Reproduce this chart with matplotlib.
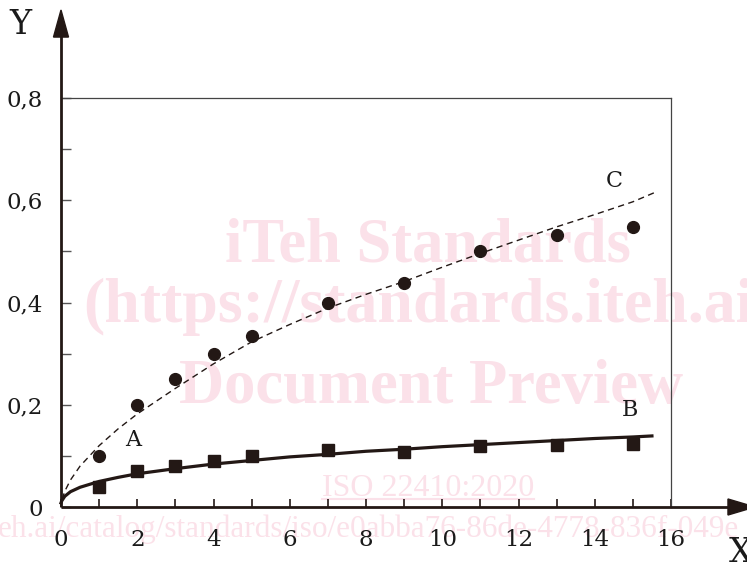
import matplotlib
matplotlib.use("Agg")
import matplotlib.pyplot as plt
from matplotlib.patches import Polygon

# ---- data ----
x_points = [1, 2, 3, 4, 5, 7, 9, 11, 13, 15]
c_points = [0.10, 0.20, 0.25, 0.30, 0.335, 0.40, 0.438, 0.50, 0.532, 0.548]
b_points = [0.039, 0.070, 0.080, 0.089, 0.099, 0.111, 0.108, 0.119, 0.121, 0.124]

c_curve_x = [0.03, 0.1, 0.25, 0.5, 1, 1.5, 2, 3, 4, 5, 6, 7, 8, 9, 10, 11, 12, 13, 14, 15, 15.6]
c_curve_y = [0.015, 0.031, 0.053, 0.080, 0.120, 0.153, 0.182, 0.232, 0.280, 0.323,
             0.357, 0.389, 0.416, 0.441, 0.469, 0.496, 0.522, 0.548, 0.572, 0.597, 0.616]

b_curve_x = [0.0, 0.02, 0.1, 0.25, 0.5, 1, 1.5, 2, 3, 4, 5, 6, 7, 8, 9, 10, 11, 12, 13, 14, 15, 15.5]
b_curve_y = [0.008, 0.012, 0.021, 0.030, 0.0386, 0.050, 0.058, 0.065, 0.075, 0.084, 0.091,
             0.098, 0.103, 0.109, 0.113, 0.118, 0.122, 0.126, 0.130, 0.134, 0.137, 0.139]

x_ticklabels = ["0", "2", "4", "6", "8", "10", "12", "14", "16"]
y_ticklabels = ["0", "0,2", "0,4", "0,6", "0,8"]

DARK = "#231815"
PINK = "#fbe1e9"
W, H = 747, 569

fig = plt.figure(figsize=(W / 100, H / 100), dpi=100)

# watermark (behind data)
wm = dict(color=PINK, fontfamily="Liberation Serif", fontweight="bold",
          transform=fig.transFigure, zorder=0)
fig.text(428 / W, 1 - 262 / H, "iTeh Standards", ha="center", va="baseline", fontsize=45, **wm)
fig.text(83 / W, 1 - 322 / H, "(https://standards.iteh.ai)", ha="left", va="baseline",
         fontsize=46, **wm)
fig.text(431 / W, 1 - 403 / H, "Document Preview", ha="center", va="baseline", fontsize=45, **wm)
fig.text(428 / W, 1 - 496 / H, "ISO 22410:2020", ha="center", va="baseline",
         transform=fig.transFigure, color=PINK, fontfamily="Liberation Serif",
         fontsize=23, zorder=0)
fig.add_artist(plt.Line2D([322 / W, 534 / W], [1 - 499 / H, 1 - 499 / H],
                          transform=fig.transFigure, color=PINK, lw=1.5, zorder=0))
fig.text(-2 / W, 1 - 537 / H, "eh.ai/catalog/standards/iso/e0abba76-86de-4778-836f-049e",
         ha="left", va="baseline", transform=fig.transFigure, color=PINK,
         fontfamily="Liberation Serif", fontsize=22.5, zorder=0)

ax = fig.add_axes([61 / W, (H - 507) / H, 610 / W, 409 / H])
ax.set_zorder(2)
ax.set_xlim(0, 16)
ax.set_ylim(0, 0.8)
ax.patch.set_alpha(0)

# frame: thin top/right
for s in ["left", "bottom"]:
    ax.spines[s].set_visible(False)
for s in ["top", "right"]:
    ax.spines[s].set_color("#444444")
    ax.spines[s].set_linewidth(0.9)

# ticks
ax.set_xticks(range(0, 17))
ax.set_xticklabels([x_ticklabels[i // 2] if i % 2 == 0 else "" for i in range(17)])
ax.set_yticks([i / 10 for i in range(9)])
ax.set_yticklabels([y_ticklabels[i // 2] if i % 2 == 0 else "" for i in range(9)])
ax.tick_params(axis="x", direction="in", length=6, width=1.2, color=DARK, pad=16,
               labelsize=16.5, labelcolor="#1a1a1a", top=False)
ax.tick_params(axis="y", direction="in", length=7, width=1.0, color="#555555", pad=13,
               labelsize=16.5, labelcolor="#1a1a1a", right=False)
for lab in ax.get_xticklabels() + ax.get_yticklabels():
    lab.set_fontfamily("DejaVu Serif")

# axis arrows
ax.plot([0, 0], [0, 1.16], transform=ax.transAxes, color=DARK, lw=2.0,
        clip_on=False, solid_capstyle="butt", zorder=5)
ax.add_patch(Polygon([[-0.0123, 1.149], [0.0123, 1.149], [0, 1.2152]], closed=True,
                     transform=ax.transAxes, color=DARK, clip_on=False, zorder=5))
ax.plot([0, 1.10], [0, 0], transform=ax.transAxes, color=DARK, lw=2.0,
        clip_on=False, solid_capstyle="butt", zorder=5)
ax.add_patch(Polygon([[1.0934, -0.0196], [1.0934, 0.0196], [1.1377, 0]], closed=True,
                     transform=ax.transAxes, color=DARK, clip_on=False, zorder=5))

# axis letters
fig.text(20 / W, 1 - 25 / H, "Y", ha="center", va="center", fontsize=24,
         fontfamily="DejaVu Serif", color="#1a1a1a")
fig.text(741 / W, 1 - 553 / H, "X", ha="center", va="center", fontsize=24,
         fontfamily="DejaVu Serif", color="#1a1a1a")

# curves
ax.plot(c_curve_x, c_curve_y, color=DARK, lw=1.0, linestyle=(0, (4.5, 3.2)),
        clip_on=False, zorder=3)
ax.plot(b_curve_x, b_curve_y, color=DARK, lw=2.3, clip_on=False, zorder=3)

# points
ax.plot(x_points, c_points, "o", color=DARK, markersize=8.5, zorder=4)
ax.plot(x_points, b_points, "s", color=DARK, markersize=8, zorder=4)

# labels
lbl = dict(fontsize=16, fontfamily="DejaVu Serif", color="#1a1a1a", ha="center", va="center")
ax.text(1.89, 0.131, "A", **lbl)
ax.text(14.92, 0.19, "B", **lbl)
ax.text(14.5, 0.638, "C", **lbl)

fig.savefig("out.png", dpi=100)
